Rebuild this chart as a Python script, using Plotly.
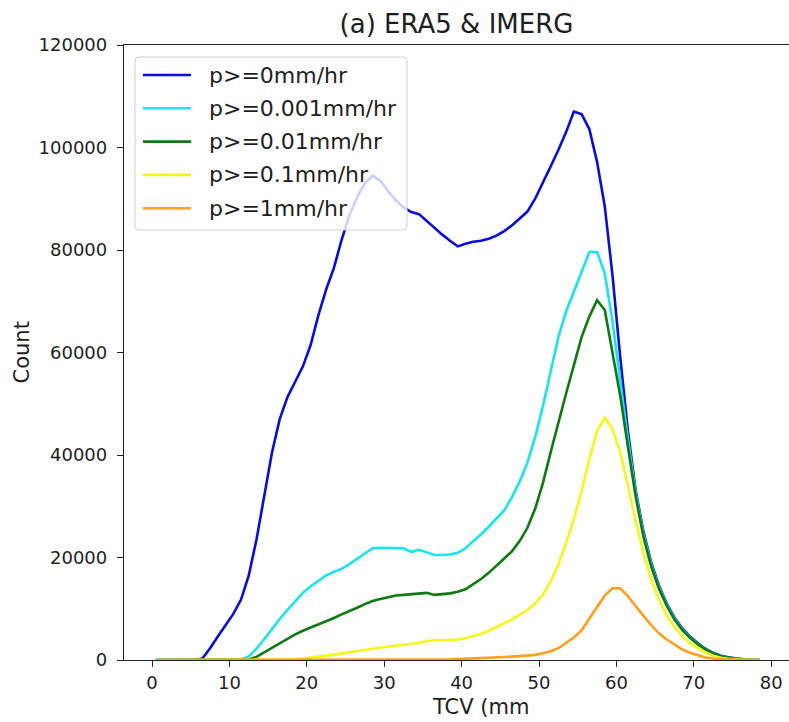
import numpy as np
import plotly.graph_objects as go

# Bin centres of total column vapour (mm), 1 mm bins
tcv = np.arange(0.5, 79.0, 1.0)

labels = ["p>=0mm/hr", "p>=0.001mm/hr", "p>=0.01mm/hr", "p>=0.1mm/hr", "p>=1mm/hr"]
colors = ["#0a0ae6", "#14e6f0", "#0d7a0d", "#f7f714", "#ff9f1c"]

x_ticks = [0, 10, 20, 30, 40, 50, 60, 70, 80]
y_ticks = [0, 20000, 40000, 60000, 80000, 100000, 120000]

count_p0 = [
    0, 0, 0, 0, 0, 0, 300, 2300, 4600, 6900,
    9000, 11800, 16500, 23500, 32000, 40500, 47000, 51300, 54300, 57300,
    61500, 67300, 72300, 76500, 82000, 86800, 90300, 93000, 94500, 93500,
    91500, 89700, 88300, 87400, 87000, 85600, 84400, 83000, 81800, 80700,
    81200, 81600, 81800, 82200, 82800, 83700, 84800, 86200, 87500, 90000,
    93000, 96300, 99500, 103000, 107000, 106500, 103600, 97200, 88500, 75000,
    59000, 44500, 33000, 25000, 19000, 14500, 11000, 8300, 6200, 4600,
    3300, 2200, 1400, 850, 480, 250, 120, 50, 12,
]

count_p0001 = [
    0, 0, 0, 0, 0, 0, 0, 0, 0, 0,
    0, 100, 700, 2200, 4100, 6100, 8000, 9800, 11500, 13100,
    14400, 15500, 16500, 17200, 17800, 18700, 19700, 20800, 21800, 21900,
    21900, 21900, 21800, 21100, 21500, 21000, 20500, 20500, 20600, 20900,
    21800, 23200, 24500, 26000, 27500, 29200, 31800, 34800, 38500, 43500,
    49500, 56500, 63000, 68000, 72000, 76000, 79600, 79600, 75400, 66000,
    54000, 43000, 32500, 24500, 18600, 14200, 10800, 8100, 6000, 4450,
    3200, 2100, 1350, 800, 450, 230, 110, 45, 10,
]

count_p001 = [
    0, 0, 0, 0, 0, 0, 0, 0, 0, 0,
    0, 0, 100, 600, 1500, 2400, 3300, 4200, 5000, 5700,
    6300, 6900, 7500, 8200, 8900, 9500, 10200, 10900, 11500, 11900,
    12300, 12600, 12700, 12800, 12900, 13100, 12700, 12800, 13000, 13300,
    13800, 14800, 15800, 17000, 18400, 19800, 21200, 23200, 25800, 29500,
    34500, 40500, 46500, 52000, 57500, 63000, 67000, 70200, 68300, 60000,
    51500, 41500, 31800, 24000, 18200, 13900, 10600, 7900, 5850, 4350,
    3100, 2050, 1300, 780, 430, 220, 100, 40, 8,
]

count_p01 = [
    0, 0, 0, 0, 0, 0, 0, 0, 0, 0,
    0, 0, 0, 0, 0, 0, 0, 50, 150, 300,
    450, 650, 850, 1050, 1250, 1450, 1700, 1950, 2200, 2450,
    2650, 2850, 3000, 3150, 3350, 3700, 3850, 3850, 3900, 4000,
    4250, 4600, 5100, 5700, 6400, 7100, 7900, 8800, 9800, 11000,
    12800, 15300, 18700, 22800, 27500, 33000, 39200, 44700, 47300, 45000,
    40500, 34000, 27000, 20800, 15700, 11700, 8700, 6400, 4700, 3300,
    2300, 1450, 850, 450, 220, 100, 40, 15, 5,
]

count_p1 = [
    0, 0, 0, 0, 0, 0, 0, 0, 0, 0,
    0, 0, 0, 0, 0, 0, 0, 0, 0, 0,
    0, 0, 0, 0, 0, 0, 0, 0, 0, 0,
    0, 0, 10, 20, 30, 50, 70, 100, 130, 170,
    220, 270, 330, 400, 480, 550, 650, 750, 850, 1000,
    1300, 1700, 2300, 3300, 4400, 5800, 8000, 10300, 12600, 14000,
    14000, 12400, 10400, 8600, 6800, 5200, 4000, 3000, 2100, 1400,
    900, 500, 280, 150, 70, 30, 10, 0, 0,
]

series = [count_p0, count_p0001, count_p001, count_p01, count_p1]

FONT = "DejaVu Sans"
INK = "#1e1e1e"
AXIS = "#222222"

W, H = 789, 722
ML, MR, MT, MB = 124, 0, 45, 62
PW, PH = W - ML - MR, H - MT - MB


def px_x(px):
    """Horizontal pixel position -> paper fraction."""
    return (px - ML) / PW


def px_y(py):
    """Vertical pixel position (from top) -> paper fraction."""
    return (H - MB - py) / PH


fig = go.Figure()
for name, ys, col in zip(labels, series, colors):
    fig.add_trace(go.Scatter(
        x=tcv, y=ys, mode="lines", name=name,
        line=dict(color=col, width=2.6),
    ))

# Legend box (rounded, semi-transparent like a framed legend)
bx0, bx1, by0, by1, r = 135, 407, 57, 230, 4
rx, ry = r / PW, r / PH
x0, x1, y0, y1 = px_x(bx0), px_x(bx1), px_y(by1), px_y(by0)
box_path = (
    f"M{x0 + rx},{y0} L{x1 - rx},{y0} Q{x1},{y0} {x1},{y0 + ry} "
    f"L{x1},{y1 - ry} Q{x1},{y1} {x1 - rx},{y1} "
    f"L{x0 + rx},{y1} Q{x0},{y1} {x0},{y1 - ry} "
    f"L{x0},{y0 + ry} Q{x0},{y0} {x0 + rx},{y0} Z"
)
shapes = [dict(
    type="path", path=box_path, xref="paper", yref="paper",
    fillcolor="rgba(255,255,255,0.8)", line=dict(color="#cfcfcf", width=1),
    layer="above",
)]
annotations = []
row0, row_step = 75, 33.3
for i, (name, col) in enumerate(zip(labels, colors)):
    yy = px_y(row0 + i * row_step)
    shapes.append(dict(
        type="line", xref="paper", yref="paper",
        x0=px_x(143), x1=px_x(191), y0=yy, y1=yy,
        line=dict(color=col, width=2.6), layer="above",
    ))
    annotations.append(dict(
        text=name, xref="paper", yref="paper", x=px_x(207), y=yy,
        xanchor="left", yanchor="middle", showarrow=False,
        font=dict(family=FONT, size=22, color=INK),
    ))

# Axis labels
annotations.append(dict(
    text="TCV (mm", xref="paper", yref="paper", x=px_x(480), y=0,
    xanchor="center", yanchor="middle", yshift=-47, showarrow=False,
    font=dict(family=FONT, size=21, color=INK),
))
annotations.append(dict(
    text="Count", xref="paper", yref="paper", x=px_x(21), y=0.5,
    xanchor="center", yanchor="middle", textangle=-90, showarrow=False,
    font=dict(family=FONT, size=21, color=INK),
))

fig.update_layout(
    width=W, height=H,
    margin=dict(l=ML, r=MR, t=MT, b=MB),
    paper_bgcolor="white", plot_bgcolor="white",
    font=dict(family=FONT, color=INK, size=18),
    showlegend=False,
    shapes=shapes,
    annotations=annotations,
    title=dict(
        text="(a) ERA5 & IMERG", x=0.5, xref="paper", xanchor="center",
        y=1 - 24 / H, yref="container", yanchor="middle",
        font=dict(family=FONT, size=26, color=INK),
    ),
)

fig.update_xaxes(
    range=[-3.62, 82.3], tickmode="array", tickvals=x_ticks,
    ticktext=[str(v) for v in x_ticks],
    showgrid=False, zeroline=False,
    showline=True, linecolor=AXIS, linewidth=1.3, mirror=True,
    ticks="outside", ticklen=6, tickwidth=1.3, tickcolor=AXIS,
    tickfont=dict(family=FONT, size=18, color=INK),
)
fig.update_yaxes(
    range=[0, 120000], tickmode="array", tickvals=y_ticks,
    ticktext=[str(v) for v in y_ticks],
    showgrid=False, zeroline=False,
    showline=True, linecolor=AXIS, linewidth=1.3,
    ticks="outside", ticklen=6, tickwidth=1.3, tickcolor=AXIS,
    tickfont=dict(family=FONT, size=18, color=INK),
    ticklabelstandoff=6,
)

fig.write_html("out.html")
